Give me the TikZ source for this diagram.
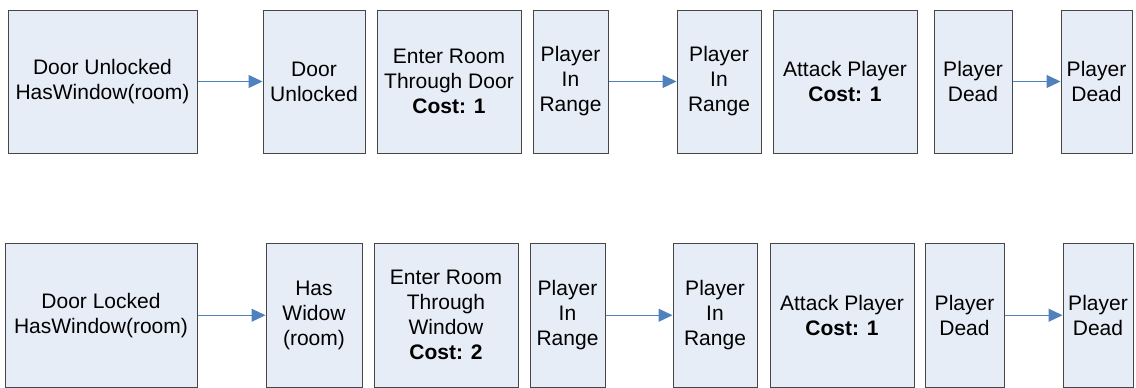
\documentclass[tikz,border=0pt]{standalone}
\usepackage{fontspec}
\setmainfont{Liberation Sans}
\usetikzlibrary{arrows.meta}
\definecolor{boxfill}{RGB}{231,237,247}
\definecolor{boxline}{RGB}{70,70,70}
\definecolor{flow}{RGB}{79,129,189}
\begin{document}
\begin{tikzpicture}[x=1pt,y=-1pt,
  box/.style={draw=boxline, line width=1pt, fill=boxfill, align=center,
    inner sep=0pt, font=\fontsize{21}{25}\selectfont},
  toprow/.style={box, minimum height=143pt},
  botrow/.style={box, minimum height=143.5pt},
  link/.style={draw=flow, line width=1.2pt, -{Triangle[length=14pt,width=13pt]}}]
\useasboundingbox (0,0) rectangle (1136,388);
% plan with an unlocked door
\node[toprow, minimum width=189pt] (t1) at (102.5,81.5) {Door Unlocked\\HasWindow(room)};
\node[toprow, minimum width=102pt] (t2) at (314,81.5) {Door\\Unlocked};
\node[toprow, minimum width=144pt] (t3) at (449,81.5) {Enter Room\\Through Door\\\textbf{Cost: 1}};
\node[toprow, minimum width=75pt] (t4) at (570.5,81.5) {Player\\In\\Range};
\node[toprow, minimum width=84pt] (t5) at (719,81.5) {Player\\In\\Range};
\node[toprow, minimum width=144pt] (t6) at (845,81.5) {Attack Player\\\textbf{Cost: 1}};
\node[toprow, minimum width=78pt] (t7) at (973,81.5) {Player\\Dead};
\node[toprow, minimum width=71pt] (t8) at (1096.5,81.5) {Player\\Dead};
\draw[link] (t1) -- (t2);
\draw[link] (t4) -- (t5);
\draw[link] (t7) -- (t8);
% plan with a locked door
\node[botrow, minimum width=192pt] (b1) at (101,315.25) {Door Locked\\HasWindow(room)};
\node[botrow, minimum width=96pt] (b2) at (314,315.25) {Has\\Widow\\(room)};
\node[botrow, minimum width=144pt] (b3) at (446,315.25) {Enter Room\\Through\\Window\\\textbf{Cost: 2}};
\node[botrow, minimum width=75pt] (b4) at (567.5,315.25) {Player\\In\\Range};
\node[botrow, minimum width=84pt] (b5) at (715,315.25) {Player\\In\\Range};
\node[botrow, minimum width=144pt] (b6) at (842,315.25) {Attack Player\\\textbf{Cost: 1}};
\node[botrow, minimum width=79pt] (b7) at (964.5,315.25) {Player\\Dead};
\node[botrow, minimum width=70pt] (b8) at (1098,315.25) {Player\\Dead};
\draw[link] (b1) -- (b2);
\draw[link] (b4) -- (b5);
\draw[link] (b7) -- (b8);
\end{tikzpicture}
\end{document}
